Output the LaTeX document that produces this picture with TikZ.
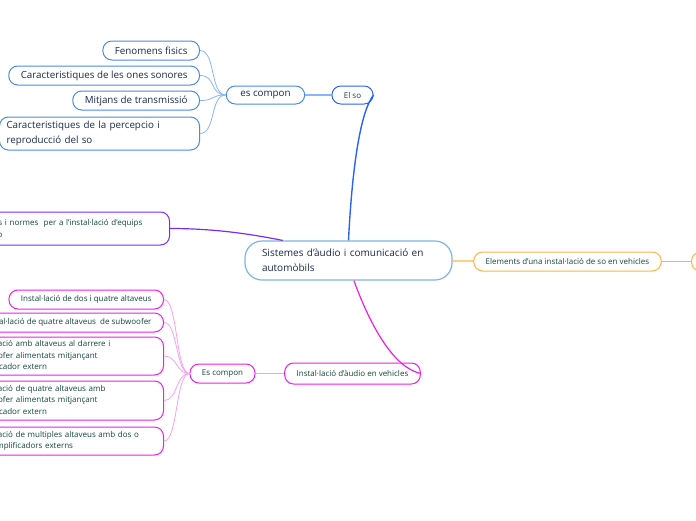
\documentclass[tikz,border=0pt]{standalone}
\usepackage{fontspec}
\setmainfont{Open Sans}
\usetikzlibrary{positioning}

\definecolor{rootblue}{HTML}{7DB5E3}
\definecolor{soblue}{HTML}{2B63F6}
\definecolor{leafblue}{HTML}{4A8BE0}
\definecolor{linkblue}{HTML}{8AB4F8}
\definecolor{navytext}{HTML}{1B2A4E}
\definecolor{greentext}{HTML}{12463A}
\definecolor{magline}{HTML}{EE1EEE}
\definecolor{maglight}{HTML}{F5A0F5}
\definecolor{purpleline}{HTML}{7B2CF2}
\definecolor{orangeline}{HTML}{FFB440}

\begin{document}
\begin{tikzpicture}[x=1pt, y=-1pt,
  box/.style={draw, line width=1pt, rounded corners=9pt, fill=white,
              minimum height=19pt, inner xsep=12pt, inner ysep=2pt, align=left},
  bigtext/.style={font=\fontsize{9.8}{15}\selectfont, text=navytext},
  smalltext/.style={font=\fontsize{8}{11.5}\selectfont, text=greentext},
  leaftop/.style={box, draw=leafblue, bigtext, anchor=east},
  leafbot/.style={box, draw=magline, smalltext, anchor=east},
  wideleaf/.style={text width=178pt}]

\useasboundingbox (0,0) rectangle (696,520);

\node[box, draw=rootblue, line width=1.2pt, rounded corners=17pt, minimum height=39pt,
      inner xsep=17pt, text width=173pt, font=\fontsize{10}{15}\selectfont, text=navytext]
      (root) at (348.5,260.5) {Sistemes d'àudio i comunicació en\\automòbils};

\node[box, draw=soblue, smalltext, minimum height=18pt] (elso) at (352.5,95) {El so};
\node[box, draw=leafblue, bigtext, minimum height=18pt, inner xsep=14pt] (esctop) at (265.5,95) {es compon};

\node[leaftop] (fenomens) at (200,50.5) {Fenomens fisics};
\node[leaftop] (ones) at (200,75.5) {Caracteristiques de les ones sonores};
\node[leaftop] (mitjans) at (200,100.5) {Mitjans de transmissió};
\node[leaftop, inner xsep=7pt, text width=186pt, minimum height=33pt] (percepcio) at (200,133.5)
      {Caracteristiques de la percepcio i\\reproducció del so};

\node[box, draw=purpleline, smalltext, anchor=east, text width=182pt, minimum height=33pt] (normes) at (170,228.5)
      {Criteris i normes\ \ per a l'instal·lació d'equips\\d'àudio};

\node[box, draw=orangeline, smalltext] (elements) at (567.5,261.5) {Elements d'una instal·lació de so en vehicles};
\node[box, draw=orangeline, anchor=west, minimum width=30pt] (seguent) at (691,261.5) {};

\node[box, draw=magline, smalltext, minimum height=21pt] (vehicles) at (352.5,373.5) {Instal·lació d'àudio en vehicles};
\node[box, draw=magline, smalltext] (escbot) at (222.5,373.5) {Es compon};

\node[leafbot] (dosquatre) at (164,299.5) {Instal·lació de dos i quatre altaveus};
\node[leafbot] (subwoofer) at (164,322.5) {Instal·lació de quatre altaveus\ \ de subwoofer};
\node[leafbot, wideleaf, minimum height=38pt] (darrere) at (164,356)
      {Instal·lació amb altaveus al darrere i\\subwoofer alimentats mitjançant\\amplificador extern};
\node[leafbot, wideleaf, minimum height=39pt] (quatre) at (164,400.5)
      {Instal·lació de quatre altaveus amb\\subwoofer alimentats mitjançant\\amplificador extern};
\node[leafbot, wideleaf, minimum height=28pt] (multiples) at (164,441)
      {Instal·lació de multiples altaveus amb dos o\\més amplificadors externs};

\draw[soblue, line width=1.4pt] (root.north) .. controls (352,170) and (360,112) .. (elso.east);
\draw[linkblue, line width=1.2pt] (elso) -- (esctop);
\foreach \leaf in {fenomens, ones, mitjans, percepcio}
  \draw[linkblue, line width=0.8pt] (esctop.west) .. controls +(-16,0) and +(16,0) .. (\leaf.east);

\draw[purpleline, line width=1.2pt] (root.163) .. controls (250,234) and (215,228.5) .. (normes.east);

\draw[orangeline, line width=1.2pt] (root) -- (elements);
\draw[orangeline, line width=1.2pt] (elements) -- (seguent);

\draw[magline, line width=1.2pt] (root.-75) .. controls (372,330) and (395,368) .. (vehicles.east);
\draw[maglight, line width=1.2pt] (vehicles) -- (escbot);
\foreach \leaf in {dosquatre, subwoofer, darrere, quatre, multiples}
  \draw[maglight, line width=0.8pt] (escbot.west) .. controls +(-14,0) and +(14,0) .. (\leaf.east);

\end{tikzpicture}
\end{document}
